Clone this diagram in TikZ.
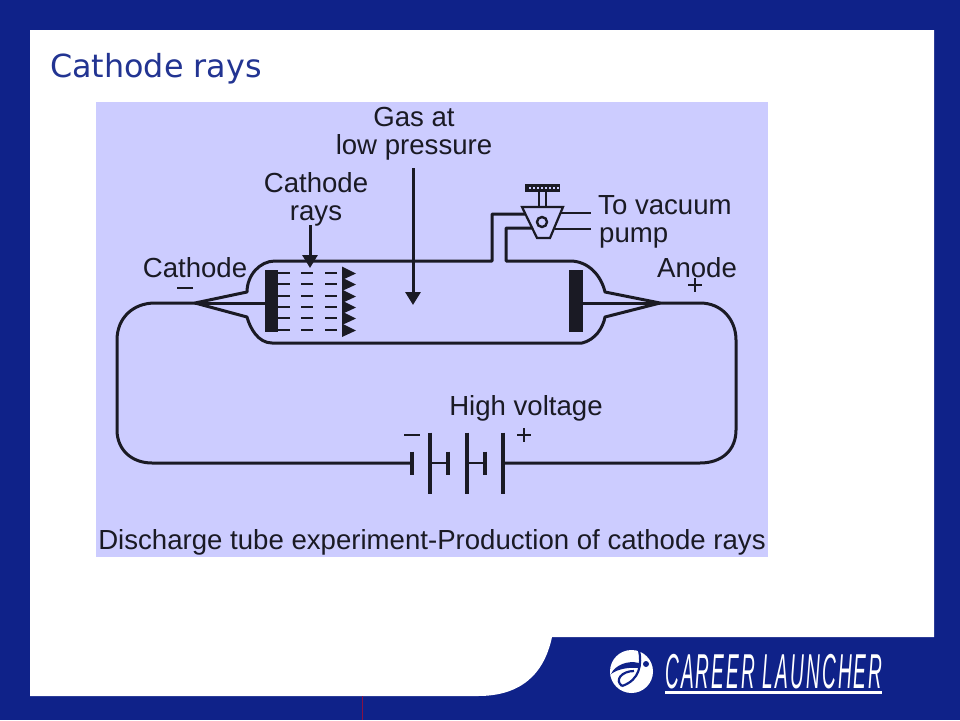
\documentclass[tikz,border=0pt]{standalone}
\usepackage{fontspec}
\setmainfont{Liberation Sans}
\newfontfamily\titlefont{DejaVu Sans}
\newfontfamily\brandfont[LetterSpace=11,ItalicFont={Liberation Sans Italic}]{Liberation Sans}
\usetikzlibrary{arrows.meta}
\definecolor{navy}{HTML}{0F2289}
\definecolor{panel}{HTML}{CCCCFF}
\definecolor{ink}{HTML}{1A1A24}
\tikzset{
  wire/.style={draw=ink,line width=3pt,line join=round},
  thinwire/.style={draw=ink,line width=1.8pt},
  plate/.style={fill=ink,draw=none},
  label/.style={font=\fontsize{27.6}{30}\selectfont,text=ink,inner sep=0pt,anchor=base},
  downarrow/.style={draw=ink,line width=3pt,-{Triangle[length=13pt,width=15pt]}},
}
\begin{document}
\begin{tikzpicture}[x=1pt,y=-1pt]
  \useasboundingbox (0,0) rectangle (960,720);
  % slide
  \fill[navy] (0,0) rectangle (960,720);
  \fill[white] (30,30) -- (934,30) -- (934,637) -- (552,637)
    .. controls (544,675) and (520,696) .. (478,696) -- (30,696) -- cycle;
  \draw[draw=red!50!navy,line width=.8pt] (362,696) -- (362,720);
  \node[anchor=base west,inner sep=0pt,text=navy!92!white,font=\titlefont\fontsize{31.8}{36}\selectfont]
    (title) at (50,77) {Cathode rays};
  \fill[panel] (96,102) rectangle (768,557);

  % logo
  \node[circle,fill=white,minimum size=43pt,inner sep=0pt] (logo) at (631.5,671.5) {};
  \fill[navy] (646,664) circle (3);
  \draw[navy,line width=2.2pt] (639,650) .. controls (642,664) and (640,680) .. (622,686);
  \fill[navy] (639,663) .. controls (628,660) and (615,665) .. (611,674)
    .. controls (618,669) and (628,667) .. (639,668) -- cycle;
  \draw[navy,line width=2.2pt] (634,671) .. controls (622,671) and (614,680) .. (622,686);
  \node[anchor=base west,inner sep=0pt,text=white] (brand) at (665,688)
    {\scalebox{.39}[1]{\brandfont\fontsize{49}{52}\itshape\selectfont CAREER LAUNCHER}};
  \fill[white] (665,691) rectangle (882,694);

  % tube
  \coordinate (cathodetip) at (195,303);
  \coordinate (anodetip) at (660,303);
  \draw[wire] (525,214) -- (492,214) -- (492,261) -- (275,261)
    .. controls (260,261) and (247,275) .. (247,292) -- (cathodetip) -- (247,317)
    .. controls (250,328) and (258,343) .. (272,343) -- (582,343)
    .. controls (595,340) and (603,328) .. (605,317) -- (anodetip) -- (605,292)
    .. controls (601,275) and (588,261) .. (570,261) -- (506,261) -- (506,228) -- (533,228);

  % electrodes
  \fill[plate] (265,270) rectangle (278,332);
  \fill[plate] (569,270) rectangle (583,332);
  \draw[wire] (cathodetip) -- (265,303);
  \draw[wire] (583,303) -- (anodetip);

  % rays
  \foreach \y/\w in {273/2.8,284/2.8,296/2,307/2,318/2.8,330/2} {
    \draw[draw=ink,line width=\w pt] (278,\y) -- (290,\y) (301,\y) -- (313,\y) (325,\y) -- (337,\y);
    \fill[ink] (342,\y-6.5) -- (356,\y+.5) -- (342,\y+7) -- cycle;
  }

  % valve
  \draw[draw=ink,line width=2.2pt,fill=panel] (522,207) -- (563,207) -- (550,238) -- (537,238) -- cycle;
  \draw[draw=ink,line width=2.4pt] (542,222) circle (5);
  \draw[draw=ink,line width=2pt] (539,192) -- (539,207) (546,192) -- (546,207);
  \fill[ink] (525,184) rectangle (560,192);
  \foreach \x in {529,533,...,557} { \fill[panel] (\x,187.3) rectangle +(1.8,1.8); }
  \draw[thinwire] (561,213) -- (591,213);
  \draw[draw=ink,line width=2.8pt] (555,229) -- (591,229);

  % circuit
  \coordinate (negend) at (412,463);
  \coordinate (posend) at (503,463);
  \draw[wire] (cathodetip) -- (155,303) .. controls (133,303) and (117,318) .. (117,340)
    -- (117,430) .. controls (117,450) and (132,463) .. (152,463) -- (negend);
  \draw[wire] (posend) -- (700,463) .. controls (722,463) and (736,450) .. (736,430)
    -- (736,340) .. controls (736,320) and (722,303) .. (700,303) -- (anodetip);

  % battery
  \foreach \x/\hw/\w in {412/11.5/4,430/30.5/3.4,448/11.5/4,467/30.5/3.4,485/11.5/4,503/30.5/3.4} {
    \draw[draw=ink,line width=\w pt] (\x,463-\hw) -- (\x,463+\hw);
  }
  \draw[draw=ink,line width=2.4pt] (430,463) -- (448,463) (467,463) -- (485,463);

  % arrows
  \coordinate (raysfoot) at (310,225);
  \coordinate (raystip) at (310,268);
  \coordinate (gasfoot) at (413,168);
  \coordinate (gastip) at (413,305);
  \draw[downarrow] (raysfoot) -- (raystip);
  \draw[downarrow] (gasfoot) -- (gastip);

  % labels
  \node[label] (gasat) at (414,126) {Gas at};
  \node[label] (lowpressure) at (414,154) {low pressure};
  \node[label] (raysa) at (316,192) {Cathode};
  \node[label] (raysb) at (316,220) {rays};
  \node[label] (cathode) at (195,277) {Cathode};
  \node[label] (anode) at (697,277) {Anode};
  \node[label,anchor=base west] (vacuuma) at (598,214) {To vacuum};
  \node[label,anchor=base west] (vacuumb) at (599,242) {pump};
  \node[label] (highvoltage) at (526,415) {High voltage};
  \node[label] (caption) at (432,549) {Discharge tube experiment-Production of cathode rays};
  \draw[thinwire] (177,288) -- (193,288);
  \draw[thinwire] (688,285) -- (702,285) (695,278) -- (695,292);
  \draw[thinwire] (404,435) -- (420,435);
  \draw[thinwire] (517,435) -- (531,435) (524,428) -- (524,442);
\end{tikzpicture}
\end{document}
